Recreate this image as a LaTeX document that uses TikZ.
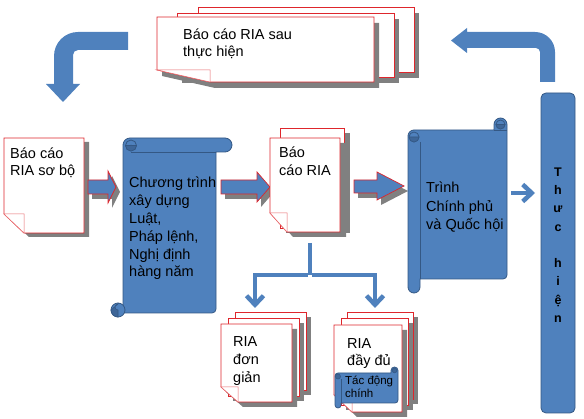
\documentclass[tikz,border=0pt]{standalone}
\usepackage{fontspec}
\setmainfont{Liberation Sans}
\usetikzlibrary{arrows.meta}
\definecolor{pblue}{RGB}{79,129,189}
\definecolor{pdark}{RGB}{52,88,132}
\definecolor{pcurl}{RGB}{62,102,152}
\definecolor{docred}{RGB}{222,38,44}
\definecolor{shadgray}{RGB}{128,128,128}
\begin{document}
\begin{tikzpicture}[x=1pt,y=-1pt,
  page/.style={fill=white,draw=docred,line width=0.7pt},
  fold/.style={fill=white,draw=docred!70,line width=0.5pt},
  shadowfill/.style={fill=shadgray},
  scrollf/.style={fill=pblue,draw=pdark,line width=0.8pt},
  curlf/.style={fill=pcurl,draw=pdark,line width=0.6pt},
  blockar/.style={fill=pblue,draw=docred,line width=0.7pt},
  bentar/.style={fill=pblue,draw=none},
  flowline/.style={draw=pblue,line width=4.5pt},
  flowtip/.style={draw=pblue,line width=4.5pt,-{Straight Barb[length=9pt,width=17pt]}},
  txt/.style={anchor=base west,inner sep=0pt,align=left},
]
\useasboundingbox (0,0) rectangle (584,419);

% ---------- top stack: Bao cao RIA sau thuc hien ----------
\fill[shadowfill] (203,13) rectangle (419,78);
\draw[page] (198,7) rectangle (414,72);
\fill[shadowfill] (182,19) rectangle (399,83);
\draw[page] (177,13) rectangle (394,77);
\fill[shadowfill] (162,23) -- (379,23) -- (379,88) -- (215,88) -- (162,76) -- cycle;
\draw[page] (157,17) -- (374,17) -- (374,82) -- (210,82) -- (157,70) -- cycle;
\draw[fold] (157,70) -- (210,70) -- (210,82) -- cycle;
\node[txt,font=\fontsize{14.5}{17}\selectfont] (tsau) at (183,57) {Báo cáo RIA sau\\thực hiện};

% ---------- bent arrows ----------
\fill[bentar] (128,32) -- (78,32) arc[start angle=270,end angle=180,radius=24]
  -- (54,84) -- (46,84) -- (63,102) -- (80,84) -- (73,84) -- (73,55)
  arc[start angle=180,end angle=270,radius=5] -- (128,50) -- cycle;
\fill[bentar] (467,32) -- (535,32) arc[start angle=270,end angle=360,radius=20]
  -- (555,82) -- (540,82) -- (540,52) arc[start angle=0,end angle=-90,radius=4]
  -- (467,48) -- (467,53) -- (451,40.5) -- (467,28) -- cycle;

% ---------- Bao cao RIA so bo ----------
\fill[shadowfill] (9,142) -- (89,142) -- (89,237) -- (29,237) -- (9,218) -- cycle;
\draw[page] (4,138) -- (84,138) -- (84,233) -- (24,233) -- (4,214) -- cycle;
\draw[fold] (4,214) -- (24,214) -- (24,233) -- cycle;
\node[txt,font=\fontsize{14.5}{17}\selectfont] (tsobo) at (10,176) {Báo cáo\\RIA sơ bộ};

% ---------- block arrows ----------
\fill[shadowfill] (92,185) -- (112,185) -- (112,176) -- (120,192) -- (112,208) -- (112,199) -- (92,199) -- cycle;
\draw[blockar] (88,180) -- (108,180) -- (108,171) -- (116,187) -- (108,203) -- (108,194) -- (88,194) -- cycle;
\fill[shadowfill] (225,185) -- (261,185) -- (261,177) -- (274,192) -- (261,207) -- (261,199) -- (225,199) -- cycle;
\draw[blockar] (221,180) -- (257,180) -- (257,172) -- (270,187) -- (257,202) -- (257,194) -- (221,194) -- cycle;
\fill[shadowfill] (358,185) -- (381,185) -- (381,177) -- (408,191) -- (381,205) -- (381,198) -- (358,198) -- cycle;
\draw[blockar] (354,180) -- (377,180) -- (377,172) -- (404,186) -- (377,200) -- (377,193) -- (354,193) -- cycle;

% ---------- scroll 1 (horizontal) ----------
\draw[scrollf] (123,313) -- (123,145) arc[start angle=180,end angle=270,radius=7]
  -- (225,138) arc[start angle=270,end angle=450,radius=7] -- (216,152)
  -- (216,309) arc[start angle=0,end angle=90,radius=4] -- cycle;
\draw[pdark,line width=0.8pt] (131,152) -- (216,152);
\draw[scrollf] (131,145.5) circle[radius=5.5];
\filldraw[curlf] (125.5,145.5) arc[start angle=180,end angle=0,radius=5.5]
  -- (131.5,145.5) arc[start angle=0,end angle=-180,radius=0.5] -- cycle;
\draw[scrollf] (118,310) circle[radius=7];
\filldraw[curlf] (111,310) arc[start angle=180,end angle=90,radius=7]
  -- (118,310) arc[start angle=90,end angle=270,radius=3] -- cycle;
\node[txt,font=\fontsize{14.5}{17.8}\selectfont] (tprog) at (129,277)
  {Chương trình\\xây dựng\\Luật,\\Pháp lệnh,\\Nghị định\\hàng năm};

% ---------- center stack: Bao cao RIA ----------
\fill[shadowfill] (286,133) rectangle (350,233);
\draw[page] (280,128) rectangle (344,228);
\fill[shadowfill] (276,143) -- (346,143) -- (346,237) -- (293,237) -- (276,218) -- cycle;
\draw[page] (270,138) -- (340,138) -- (340,232) -- (287,232) -- (270,213) -- cycle;
\draw[fold] (270,213) -- (287,213) -- (287,232) -- cycle;
\node[txt,font=\fontsize{14.5}{18}\selectfont] (tria) at (279,176) {Báo\\cáo RIA};

% ---------- scroll 2 (vertical) ----------
\draw[scrollf] (408,136) arc[start angle=180,end angle=270,radius=6] -- (494,130)
  -- (494,124.5) arc[start angle=180,end angle=360,radius=6.5]
  -- (507,275) arc[start angle=0,end angle=90,radius=4] -- (420,279)
  -- (420,287) arc[start angle=0,end angle=180,radius=6] -- cycle;
\draw[pdark,line width=0.8pt] (420,142) -- (420,279);
\draw[pdark,line width=0.8pt] (494,130) -- (507,130);
\draw[scrollf] (414,137) circle[radius=5];
\filldraw[curlf] (409,137) arc[start angle=180,end angle=0,radius=5] -- cycle;
\draw[scrollf] (500.5,124.5) circle[radius=4.5];
\filldraw[curlf] (496,124.5) arc[start angle=180,end angle=0,radius=4.5] -- cycle;
\node[txt,font=\fontsize{14.5}{18.5}\selectfont] (tgov) at (426,230)
  {Trình\\Chính phủ\\và Quốc hội};

% ---------- Thuc hien ----------
\draw[scrollf,rounded corners=5pt] (541,93) rectangle (575,413);
\node[inner sep=0pt,anchor=base,align=center,font=\bfseries\fontsize{12.5}{18.25}\selectfont]
  (tthuc) at (558,322.5) {T\\h\\ư\\c\\\mbox{}\\h\\i\\ệ\\n};

% ---------- arrow to Thuc hien ----------
\coordinate (gA) at (511,193);
\coordinate (gB) at (535,193);
\draw[flowtip] (gA) -- (gB);

% ---------- tree from Bao cao RIA ----------
\coordinate (tr0) at (310,243);
\coordinate (tr1) at (310,275);
\coordinate (trL) at (255,308);
\coordinate (trR) at (375,308);
\draw[flowline] (tr0) -- (tr1);
\draw[flowtip] ([xshift=-2.25pt]tr1) -| (trL);
\draw[flowtip] ([xshift=2.25pt]tr1) -| (trR);

% ---------- RIA don gian ----------
\fill[shadowfill] (240,317) rectangle (311,395);
\draw[page] (235,312) rectangle (306,390);
\fill[shadowfill] (233,323) rectangle (304,401);
\draw[page] (228,318) rectangle (299,396);
\fill[shadowfill] (226,329) -- (297,329) -- (297,407) -- (243,407) -- (226,392) -- cycle;
\draw[page] (221,324) -- (292,324) -- (292,402) -- (238,402) -- (221,387) -- cycle;
\draw[fold] (221,387) -- (238,387) -- (238,402) -- cycle;
\node[txt,font=\fontsize{14.5}{18}\selectfont] (tdon) at (233,383) {RIA\\đơn\\giản};

% ---------- RIA day du ----------
\fill[shadowfill] (352,317) rectangle (418,404);
\draw[page] (347,312) rectangle (413,399);
\fill[shadowfill] (346,323) rectangle (413,410);
\draw[page] (341,318) rectangle (408,405);
\fill[shadowfill] (339,330) -- (407,330) -- (407,417) -- (357,417) -- (339,400) -- cycle;
\draw[page] (334,325) -- (402,325) -- (402,412) -- (352,412) -- (334,395) -- cycle;
\draw[fold] (334,395) -- (352,395) -- (352,412) -- cycle;
\node[txt,font=\fontsize{14.5}{17}\selectfont] (tday) at (347,366) {RIA\\đầy đủ};

% ---------- small scroll: Tac dong chinh ----------
\draw[scrollf] (335,376) arc[start angle=180,end angle=270,radius=3] -- (391,373)
  -- (391,370.5) arc[start angle=180,end angle=360,radius=3.5]
  -- (398,400) arc[start angle=0,end angle=90,radius=3] -- (341,403)
  -- (341,405) arc[start angle=0,end angle=180,radius=3] -- cycle;
\draw[pdark,line width=0.6pt] (341,379) -- (341,403);
\filldraw[curlf] (338,376.5) circle[radius=2.5];
\filldraw[curlf] (394.5,370.5) circle[radius=2.3];
\node[txt,font=\fontsize{11.5}{13}\selectfont] (ttac) at (345,398) {Tác động\\chính};
\end{tikzpicture}
\end{document}
